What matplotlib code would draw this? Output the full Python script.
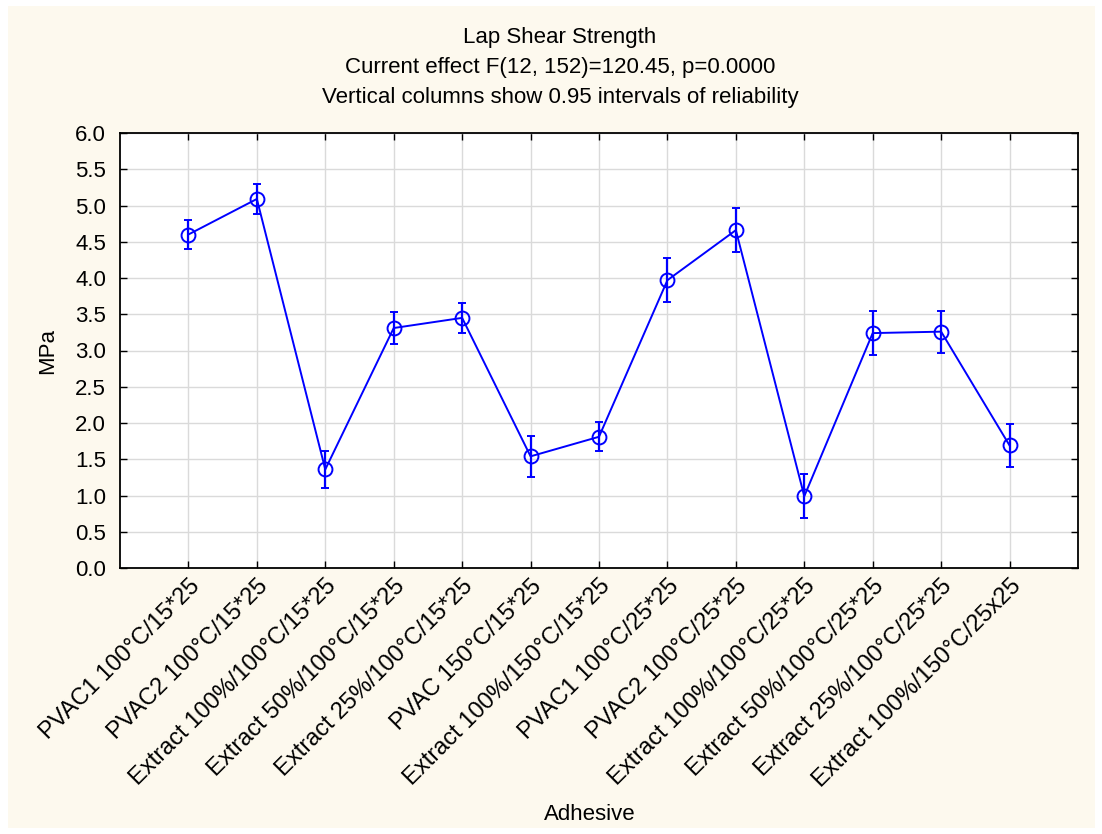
import matplotlib
matplotlib.use("Agg")
from matplotlib import pyplot as plt
from matplotlib.patches import Rectangle
import numpy as np

adhesives = ["PVAC1 100°C/15*25", "PVAC2 100°C/15*25", "Extract 100%/100°C/15*25",
             "Extract 50%/100°C/15*25", "Extract 25%/100°C/15*25", "PVAC 150°C/15*25",
             "Extract 100%/150°C/15*25", "PVAC1 100°C/25*25", "PVAC2 100°C/25*25",
             "Extract 100%/100°C/25*25", "Extract 50%/100°C/25*25",
             "Extract 25%/100°C/25*25", "Extract 100%/150°C/25x25"]
means = [4.60, 5.09, 1.36, 3.31, 3.45, 1.54, 1.81, 3.97, 4.66, 0.99, 3.24, 3.26, 1.69]
ci = [0.20, 0.21, 0.25, 0.22, 0.21, 0.28, 0.20, 0.30, 0.30, 0.30, 0.30, 0.29, 0.30]

plt.rcParams['font.family'] = ['Liberation Sans', 'DejaVu Sans']
fs = 16

fig = plt.figure(figsize=(11.02, 8.34), dpi=100, facecolor="white")
fig.patches.append(Rectangle((8 / 1102, 6 / 834), 1087 / 1102, 822 / 834,
                             transform=fig.transFigure, facecolor="#fdf9ee",
                             edgecolor="none", zorder=-1))
ax = fig.add_axes([120 / 1102, 266 / 834, 958 / 1102, 435 / 834])
ax.set_facecolor("white")

x = np.arange(1, len(means) + 1)
ax.errorbar(x, means, yerr=ci, color="blue", linewidth=1.4, marker="o",
            markersize=10, markerfacecolor="none", markeredgewidth=1.4,
            elinewidth=1.6, capsize=3, capthick=1.6, zorder=3)

ax.set_xlim(0, 14)
ax.set_ylim(0, 6)
ax.set_yticks(np.arange(0, 6.01, 0.5))
ax.set_yticklabels([f"{v:.1f}" for v in np.arange(0, 6.01, 0.5)], fontsize=fs)
ax.set_xticks(x)
ax.set_xticklabels(adhesives, rotation=45, ha="right", rotation_mode="anchor",
                   fontsize=17)
ax.tick_params(direction="in", top=True, right=True, length=5, width=1)
ax.tick_params(axis="y", pad=10)
ax.tick_params(axis="x", pad=5)
ax.grid(True, color="#dadada", linewidth=1)
ax.set_axisbelow(True)
for s in ax.spines.values():
    s.set_linewidth(1.3)

ax.set_ylabel("MPa", fontsize=fs, labelpad=12)
fig.text(590 / 1102, 1 - 815 / 834, "Adhesive", ha="center", va="center", fontsize=fs)
fig.text(560 / 1102, 1 - 37 / 834, "Lap Shear Strength", ha="center", va="center", fontsize=fs)
fig.text(560 / 1102, 1 - 67 / 834, "Current effect F(12, 152)=120.45, p=0.0000",
         ha="center", va="center", fontsize=fs)
fig.text(560 / 1102, 1 - 97 / 834, "Vertical columns show 0.95 intervals of reliability",
         ha="center", va="center", fontsize=fs)

fig.savefig("out.png", dpi=100, facecolor=fig.get_facecolor())
